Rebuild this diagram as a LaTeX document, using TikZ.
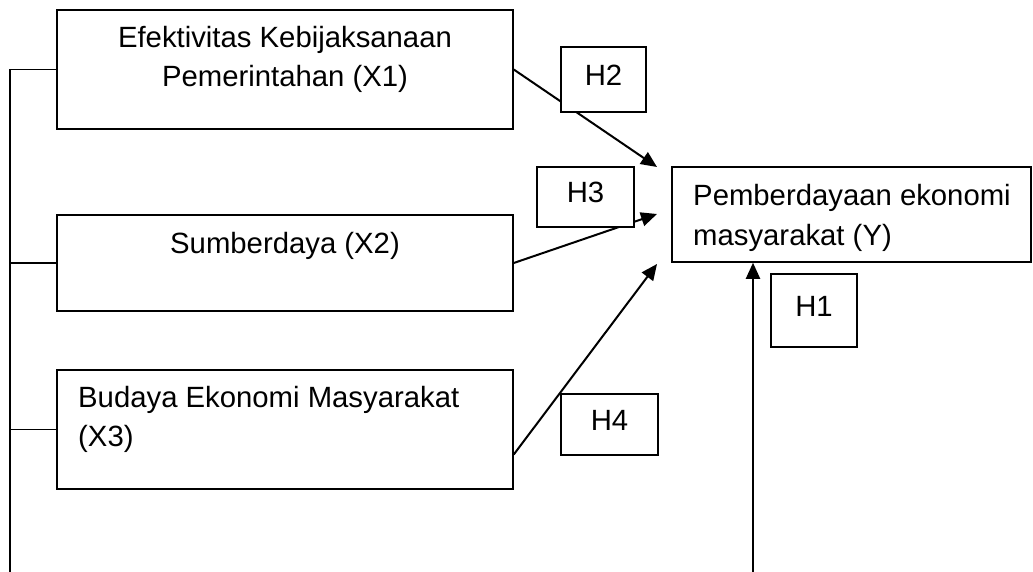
\documentclass[tikz,border=0pt]{standalone}
\usepackage{fontspec}
\setmainfont{Liberation Sans}
\usetikzlibrary{arrows.meta,calc}
\begin{document}
\begin{tikzpicture}[x=1pt,y=-1pt,
  bigbox/.style={draw,line width=1.5pt,rectangle,inner sep=0pt},
  hbox/.style={draw,fill=white,line width=1.5pt,rectangle,inner sep=0pt,text height=21pt,text depth=9pt,font=\fontsize{29.3}{39}\selectfont},
  txt/.style={inner sep=0pt,font=\fontsize{29.3}{39}\selectfont},
  conn/.style={line width=1.5pt},
  arr/.style={line width=2pt,-{Triangle[length=16pt,width=14pt]}}]
\useasboundingbox (0,0) rectangle (1033,572);
% main boxes
\node[bigbox,minimum width=456pt,minimum height=119pt] (x1) at (285,69.5) {};
\node[bigbox,minimum width=456pt,minimum height=96pt] (x2) at (285,263) {};
\node[bigbox,minimum width=456pt,minimum height=119pt] (x3) at (285,429.5) {};
\node[bigbox,minimum width=359pt,minimum height=95pt] (y) at (851.5,214.5) {};
% texts
\node[txt,anchor=base] (x1a) at (285,48) {Efektivitas Kebijaksanaan};
\node[txt,anchor=base] (x1b) at (285,87) {Pemerintahan (X1)};
\node[txt,anchor=base] (x2t) at (285,253) {Sumberdaya (X2)};
\node[txt,anchor=base west] (x3a) at (78,407) {Budaya Ekonomi Masyarakat};
\node[txt,anchor=base west] (x3b) at (78,446) {(X3)};
\node[txt,anchor=base west] (ya) at (693,206) {Pemberdayaan ekonomi};
\node[txt,anchor=base west] (yb) at (693,245) {masyarakat (Y)};
% bus on the left
\coordinate (bus) at (10,572);
\draw[conn] (x1.west) -- (x1.west -| bus) -- (bus);
\draw[conn] (x2.west) -- (x2.west -| bus);
\draw[conn] (x3.west) -- (x3.west -| bus);
% arrows to Y
\coordinate (t1) at (657,167);
\coordinate (t2) at (657,214);
\coordinate (t3) at (657,264);
\coordinate (s3) at ($(x3.east)+(0,25)$);
\draw[arr] (x1.east) -- (t1);
\draw[arr] (x2.east) -- (t2);
\draw[arr] (s3) -- (t3);
\coordinate (b) at (753,572);
\draw[arr] (b) -- (b |- y.south);
% hypothesis boxes (on top of the arrows)
\node[hbox,minimum width=85pt,minimum height=65pt] (h2) at (603.5,79.5) {H2};
\node[hbox,minimum width=97pt,minimum height=60pt] (h3) at (585.5,197) {H3};
\node[hbox,minimum width=86pt,minimum height=73pt] (h1) at (814,310.5) {H1};
\node[hbox,minimum width=97pt,minimum height=61pt] (h4) at (609.5,424.5) {H4};
\end{tikzpicture}
\end{document}
